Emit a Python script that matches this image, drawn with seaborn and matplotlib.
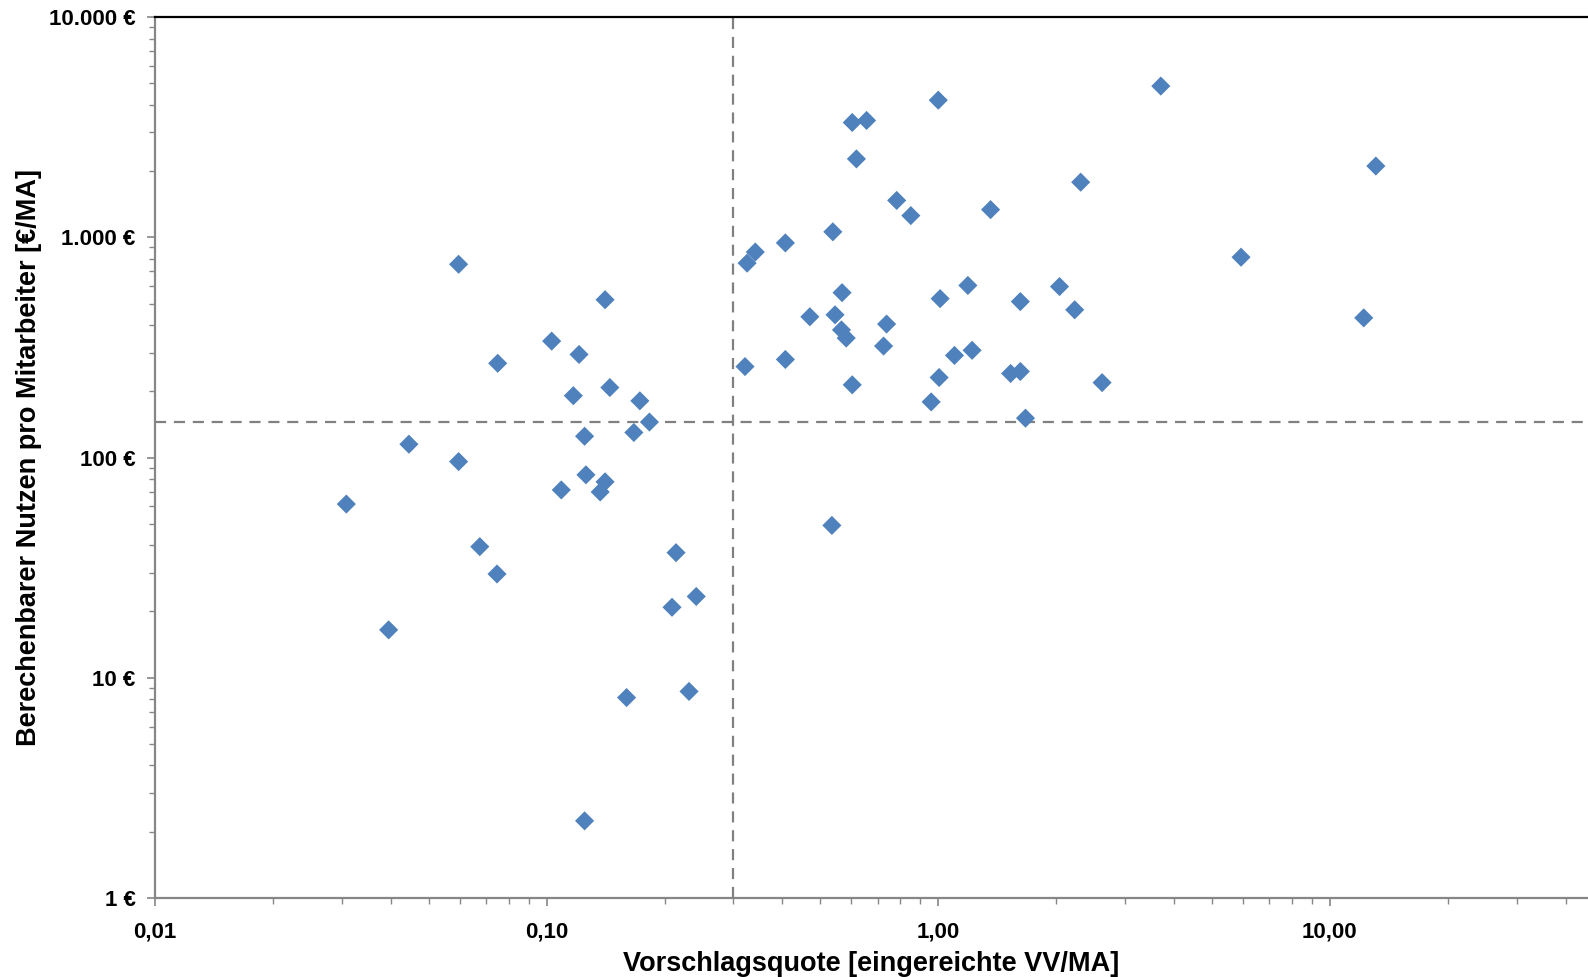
import numpy as np
import pandas as pd
import matplotlib
matplotlib.use("Agg")
import matplotlib.pyplot as plt
from matplotlib.ticker import FixedLocator, LogLocator, NullFormatter
import seaborn as sns

# Vorschlagsquote [eingereichte VV/MA]
quote = [0.0308, 0.0395, 0.0445, 0.0596, 0.0596, 0.0675, 0.0747, 0.075,
         0.103, 0.109, 0.117, 0.121, 0.125, 0.126, 0.125, 0.137, 0.141,
         0.141, 0.145, 0.160, 0.167, 0.173, 0.183, 0.209, 0.214, 0.231,
         0.241, 0.321, 0.325, 0.341, 0.407, 0.407, 0.470, 0.535, 0.538,
         0.545, 0.568, 0.566, 0.582, 0.603, 0.603, 0.618, 0.656, 0.725,
         0.738, 0.783, 0.851, 0.959, 1.0, 1.005, 1.011, 1.10, 1.19, 1.22,
         1.36, 1.53, 1.62, 1.62, 1.67, 2.04, 2.23, 2.31, 2.62, 3.70, 5.93,
         12.2, 13.1]
# Berechenbarer Nutzen pro Mitarbeiter [EUR/MA]
nutzen = [61.5, 16.5, 115, 755, 95.9, 39.4, 29.6, 268,
          338, 71.3, 191, 294, 125, 83.5, 2.24, 69.8, 77.6,
          521, 208, 8.13, 130, 181, 145, 20.9, 37.0, 8.67,
          23.4, 259, 764, 858, 944, 279, 436, 49.2, 1060,
          445, 561, 380, 349, 3325, 214, 2272, 3397, 321,
          404, 1472, 1256, 179, 4198, 231, 527, 291, 605, 307,
          1337, 241, 246, 511, 151, 598, 469, 1781, 219, 4866, 813,
          431, 2109]

grenze_x = 0.30
grenze_y = 145

x_ticks = [0.01, 0.1, 1, 10]
x_labels = ["0,01", "0,10", "1,00", "10,00"]
y_ticks = [1, 10, 100, 1000, 10000]
y_labels = ["1 €", "10 €", "100 €", "1.000 €", "10.000 €"]

df = pd.DataFrame({"quote": quote, "nutzen": nutzen})

sns.set_style("white")
plt.rcParams['font.family'] = ['Liberation Sans', 'DejaVu Sans']
plt.rcParams['text.color'] = 'black'
plt.rcParams['axes.labelcolor'] = 'black'

fig = plt.figure(figsize=(15.88, 9.77), dpi=100)
ax = fig.add_axes([0.0976, 0.0809, 0.9024, 0.9015])

ax.set_xscale("log")
ax.set_yscale("log")
ax.set_xlim(0.01, 45.6)
ax.set_ylim(1, 10000)

# Trennlinien (Quadranten)
ax.axvline(grenze_x, color="#808080", linestyle=(0, (5, 3.5)), linewidth=1.6, zorder=1)
ax.axhline(grenze_y, color="#808080", linestyle=(0, (5, 3.5)), linewidth=1.6, zorder=1)

sns.scatterplot(data=df, x="quote", y="nutzen", marker="D", s=95,
                color="#4F81BD", edgecolor="none", ax=ax, zorder=3)

ax.xaxis.set_major_locator(FixedLocator(x_ticks))
ax.set_xticklabels(x_labels)
ax.yaxis.set_major_locator(FixedLocator(y_ticks))
ax.set_yticklabels(y_labels)
ax.xaxis.set_minor_locator(LogLocator(base=10, subs=np.arange(2, 10)))
ax.yaxis.set_minor_locator(LogLocator(base=10, subs=np.arange(2, 10)))
ax.xaxis.set_minor_formatter(NullFormatter())
ax.yaxis.set_minor_formatter(NullFormatter())

for lbl in ax.get_xticklabels() + ax.get_yticklabels():
    lbl.set_fontweight("bold")
    lbl.set_fontsize(16)

ax.tick_params(axis="x", which="major", pad=11)
ax.tick_params(axis="y", which="major", pad=8)
ax.tick_params(axis="both", which="major", direction="out", length=6, width=1.2,
               color="#868686", labelcolor="black", bottom=True, left=True)
ax.tick_params(axis="both", which="minor", direction="out", length=4, width=1.0,
               color="#868686", bottom=True, left=True)

for side in ["left", "bottom"]:
    ax.spines[side].set_color("#868686")
    ax.spines[side].set_linewidth(1.6)
ax.spines["top"].set_color("black")
ax.spines["top"].set_linewidth(1.6)
ax.spines["right"].set_visible(False)

ax.set_xlabel("Vorschlagsquote [eingereichte VV/MA]", fontsize=19.5, fontweight="bold", labelpad=6)
ax.set_ylabel("Berechenbarer Nutzen pro Mitarbeiter [€/MA]", fontsize=19.5, fontweight="bold", labelpad=5)
ax.grid(False)

fig.savefig("out.png", dpi=100)
